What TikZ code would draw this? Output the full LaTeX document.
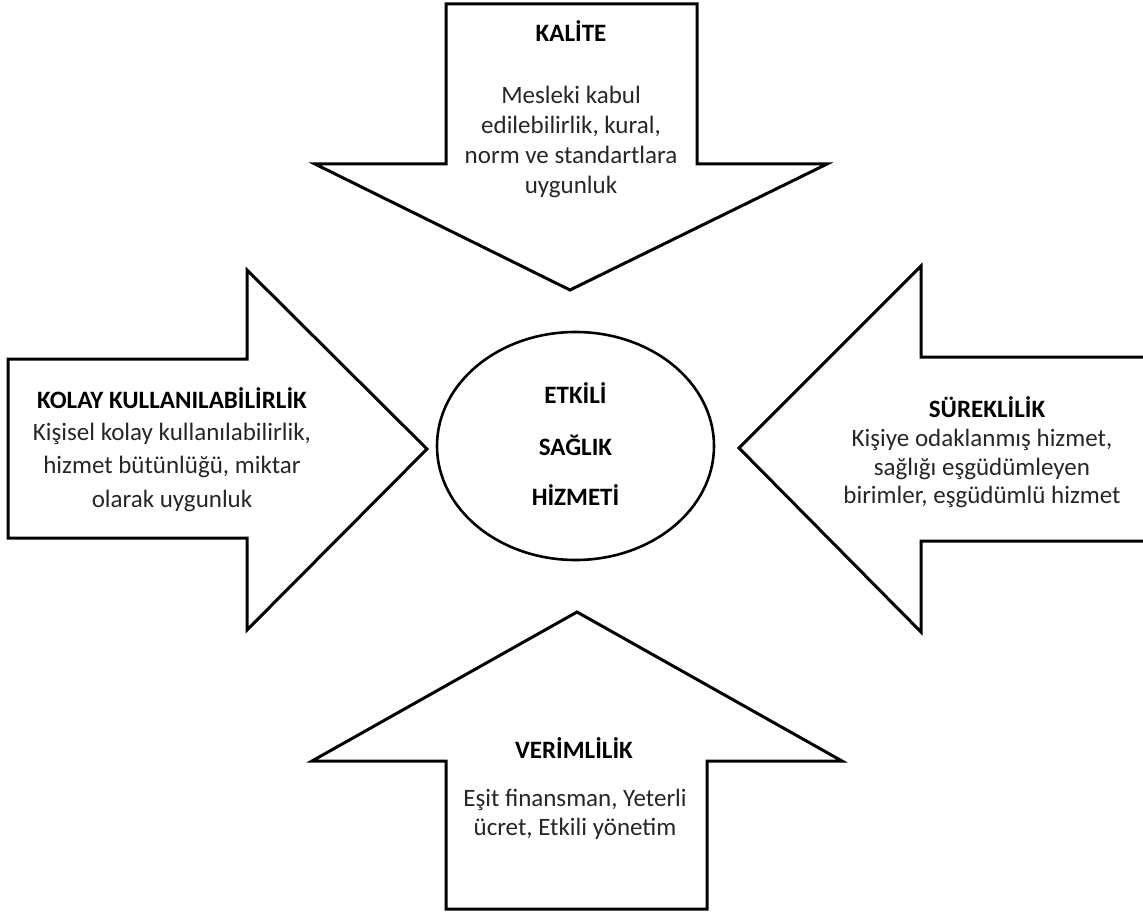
\documentclass[tikz,border=0pt]{standalone}
\usepackage{fontspec}
\setmainfont{Carlito}
\tikzset{
  shapeline/.style={draw=black,line width=3pt,line join=miter,fill=white},
  oval/.style={draw=black,line width=2.6pt},
  txt/.style={align=center,font=\fontsize{25}{30}\selectfont,inner sep=0pt,text=black!85},
  ttl/.style={align=center,font=\fontsize{25}{30}\selectfont\bfseries,inner sep=0pt}
}
\begin{document}
\begin{tikzpicture}[x=1pt,y=-1pt]
\useasboundingbox (0,0) rectangle (1143,912);
% top arrow (KALITE)
\draw[shapeline] (446,4) -- (697,4) -- (697,164) -- (827,164) -- (570,290) -- (315,164) -- (446,164) -- cycle;
% left arrow
\draw[shapeline] (8,359) -- (247,359) -- (247,270) -- (427,449) -- (247,630) -- (247,538) -- (8,538) -- cycle;
% right arrow (open at the page edge)
\fill[white] (1143,357) -- (921,357) -- (921,266) -- (739,448) -- (921,632) -- (921,541) -- (1143,541) -- cycle;
\draw[shapeline,fill=none] (1143,357) -- (921,357) -- (921,266) -- (739,448) -- (921,632) -- (921,541) -- (1143,541);
% bottom arrow
\draw[shapeline] (446,909) -- (707,909) -- (707,761) -- (842,761) -- (577,612) -- (312,761) -- (446,761) -- cycle;
% centre ellipse
\draw[oval] (575.5,446) ellipse [x radius=138.5, y radius=114];
\node[ttl] (c1) at (575.5,393) {ETKİLİ};
\node[ttl] (c2) at (575.5,445) {SAĞLIK};
\node[ttl] (c3) at (575.5,495) {HİZMETİ};
% top texts
\node[ttl] (kt) at (571,31) {KALİTE};
\node[txt] (kb) at (571,142) {Mesleki kabul\\edilebilirlik, kural,\\norm ve standartlara\\uygunluk};
% left texts
\node[ttl] (lt) at (172,398) {KOLAY KULLANILABİLİRLİK};
\node[txt,font=\fontsize{25}{33.5}\selectfont] (lb) at (172,467) {Kişisel kolay kullanılabilirlik,\\hizmet bütünlüğü, miktar\\olarak uygunluk};
% right texts
\node[ttl] (rt) at (987,407) {SÜREKLİLİK};
\node[txt,font=\fontsize{25}{28.5}\selectfont] (rb) at (982,468.5) {Kişiye odaklanmış hizmet,\\sağlığı eşgüdümleyen\\birimler, eşgüdümlü hizmet};
% bottom texts
\node[ttl] (bt) at (574,748) {VERİMLİLİK};
\node[txt,font=\fontsize{25}{29}\selectfont] (bb) at (575,814.5) {Eşit finansman, Yeterli\\ücret, Etkili yönetim};
\end{tikzpicture}
\end{document}
